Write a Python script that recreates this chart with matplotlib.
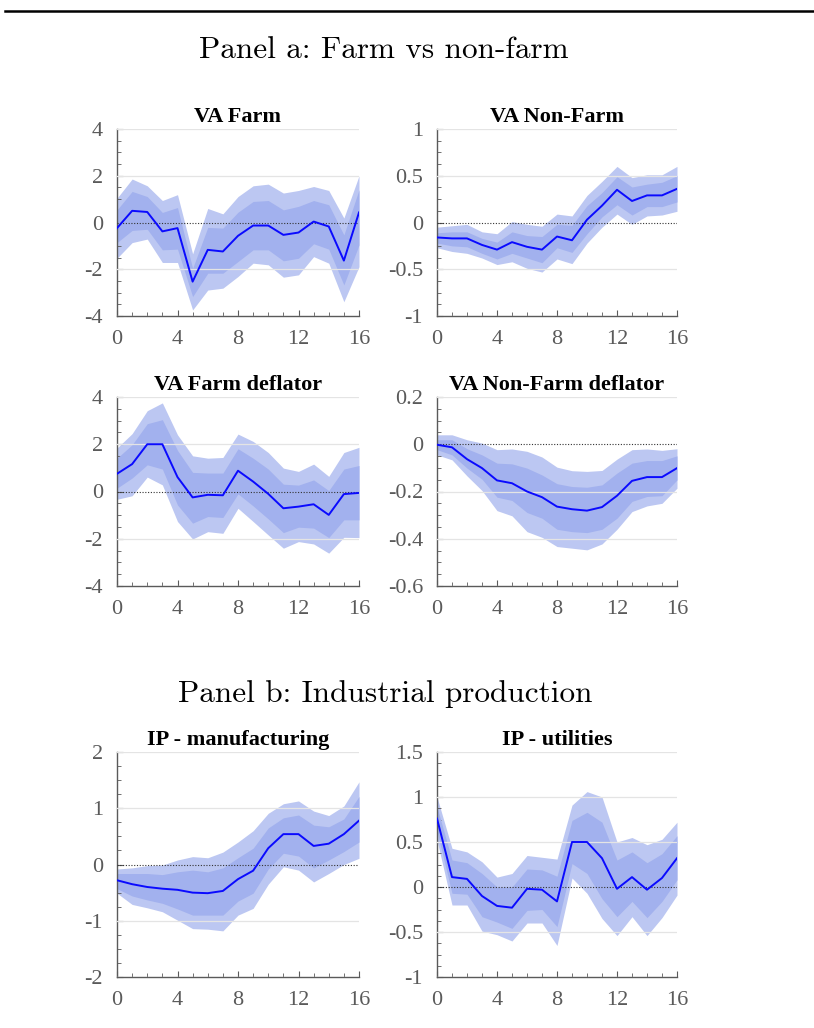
import numpy as np
import matplotlib
matplotlib.use("Agg")
import matplotlib.pyplot as plt
from matplotlib.ticker import MultipleLocator
from matplotlib.lines import Line2D

plt.rcParams["axes.unicode_minus"] = False

horizon = np.arange(17)

# VA Farm
farm_med = [-0.24, 0.50, 0.45, -0.38, -0.24, -2.53, -1.17, -1.24, -0.57, -0.13, -0.13, -0.53, -0.43, 0.04, -0.17, -1.63, 0.43]
farm_hi90 = [1.04, 1.86, 1.57, 0.94, 1.19, -1.34, 0.60, 0.37, 1.11, 1.57, 1.64, 1.26, 1.37, 1.54, 1.37, 0.19, 2.00]
farm_hi68 = [0.54, 1.33, 1.11, 0.43, 0.64, -1.96, -0.21, -0.24, 0.44, 0.90, 0.94, 0.54, 0.69, 0.94, 0.76, -0.53, 1.40]
farm_lo68 = [-0.86, -0.34, -0.29, -1.17, -1.14, -3.17, -2.17, -2.17, -1.67, -1.17, -1.17, -1.64, -1.53, -0.91, -1.14, -2.67, -0.96]
farm_lo90 = [-1.53, -0.86, -0.71, -1.71, -1.71, -3.74, -2.89, -2.81, -2.31, -1.74, -1.81, -2.34, -2.24, -1.46, -1.74, -3.39, -1.89]

# VA Non-Farm
nonfarm_med = [-0.16, -0.17, -0.17, -0.24, -0.29, -0.21, -0.26, -0.29, -0.15, -0.19, 0.03, 0.18, 0.35, 0.23, 0.29, 0.29, 0.36]
nonfarm_hi90 = [-0.05, -0.035, -0.02, -0.10, -0.12, 0.01, -0.02, -0.04, 0.09, 0.07, 0.29, 0.44, 0.60, 0.48, 0.51, 0.51, 0.60]
nonfarm_hi68 = [-0.11, -0.10, -0.10, -0.17, -0.21, -0.10, -0.14, -0.15, -0.02, -0.03, 0.18, 0.32, 0.49, 0.38, 0.41, 0.43, 0.50]
nonfarm_lo68 = [-0.22, -0.25, -0.26, -0.33, -0.39, -0.33, -0.38, -0.43, -0.27, -0.32, -0.12, 0.06, 0.19, 0.08, 0.17, 0.17, 0.22]
nonfarm_lo90 = [-0.27, -0.31, -0.33, -0.38, -0.45, -0.42, -0.49, -0.53, -0.39, -0.44, -0.22, -0.05, 0.09, -0.02, 0.07, 0.08, 0.12]

# VA Farm deflator
farmdef_med = [0.75, 1.16, 2.00, 2.00, 0.61, -0.25, -0.14, -0.16, 0.88, 0.42, -0.10, -0.71, -0.64, -0.54, -0.99, -0.11, -0.06]
farmdef_hi90 = [1.84, 2.45, 3.42, 3.75, 2.40, 1.51, 1.41, 1.44, 2.43, 2.12, 1.65, 0.99, 0.85, 1.16, 0.64, 1.65, 1.87]
farmdef_hi68 = [1.41, 1.98, 2.87, 3.04, 1.74, 0.81, 0.78, 0.78, 1.81, 1.41, 0.95, 0.31, 0.27, 0.49, 0.04, 0.95, 1.10]
farmdef_lo68 = [0.14, 0.57, 1.13, 0.95, -0.57, -1.34, -1.06, -1.10, -0.10, -0.61, -1.16, -1.74, -1.51, -1.55, -1.95, -1.20, -1.20]
farmdef_lo90 = [-0.33, -0.18, 0.61, 0.28, -1.27, -2.01, -1.70, -1.77, -0.71, -1.27, -1.84, -2.40, -2.12, -2.22, -2.61, -1.94, -1.95]

# VA Non-Farm deflator
nfdef_med = [-0.002, -0.013, -0.063, -0.101, -0.153, -0.165, -0.200, -0.224, -0.264, -0.275, -0.281, -0.266, -0.218, -0.155, -0.139, -0.139, -0.101]
nfdef_hi90 = [0.040, 0.040, 0.019, 0.005, -0.023, -0.020, -0.030, -0.054, -0.097, -0.112, -0.115, -0.111, -0.063, -0.023, -0.020, -0.026, -0.019]
nfdef_hi68 = [0.019, 0.019, -0.019, -0.045, -0.080, -0.083, -0.101, -0.130, -0.167, -0.179, -0.182, -0.172, -0.122, -0.080, -0.069, -0.069, -0.049]
nfdef_lo68 = [-0.023, -0.045, -0.101, -0.148, -0.224, -0.238, -0.289, -0.313, -0.360, -0.370, -0.374, -0.360, -0.313, -0.242, -0.221, -0.218, -0.151]
nfdef_lo90 = [-0.045, -0.066, -0.134, -0.196, -0.281, -0.303, -0.370, -0.394, -0.433, -0.440, -0.447, -0.422, -0.360, -0.285, -0.261, -0.250, -0.186]

# IP - manufacturing
manu_med = [-0.28, -0.35, -0.40, -0.43, -0.45, -0.50, -0.51, -0.47, -0.26, -0.11, 0.29, 0.54, 0.54, 0.33, 0.37, 0.54, 0.78]
manu_hi90 = [-0.08, -0.06, -0.02, -0.01, 0.08, 0.14, 0.12, 0.22, 0.40, 0.60, 0.91, 1.08, 1.13, 0.95, 0.87, 1.04, 1.47]
manu_hi68 = [-0.16, -0.16, -0.16, -0.18, -0.13, -0.10, -0.13, -0.06, 0.12, 0.29, 0.65, 0.83, 0.88, 0.70, 0.67, 0.81, 1.21]
manu_lo68 = [-0.43, -0.56, -0.63, -0.69, -0.79, -0.90, -0.90, -0.90, -0.65, -0.51, -0.08, 0.20, 0.15, -0.06, 0.08, 0.23, 0.40]
manu_lo90 = [-0.51, -0.71, -0.77, -0.84, -0.99, -1.14, -1.15, -1.18, -0.90, -0.78, -0.35, -0.04, -0.10, -0.31, -0.16, 0.00, 0.11]

# IP - utilities
util_med = [0.76, 0.11, 0.09, -0.10, -0.21, -0.23, -0.02, -0.03, -0.16, 0.50, 0.50, 0.32, -0.02, 0.11, -0.03, 0.10, 0.32]
util_hi90 = [1.00, 0.43, 0.39, 0.28, 0.11, 0.15, 0.35, 0.33, 0.31, 0.91, 1.06, 1.00, 0.50, 0.55, 0.47, 0.53, 0.72]
util_hi68 = [0.89, 0.30, 0.27, 0.15, 0.00, 0.00, 0.20, 0.19, 0.12, 0.74, 0.83, 0.72, 0.30, 0.39, 0.27, 0.37, 0.57]
util_lo68 = [0.62, -0.07, -0.08, -0.33, -0.39, -0.46, -0.26, -0.25, -0.44, 0.26, 0.15, -0.13, -0.33, -0.16, -0.34, -0.16, 0.08]
util_lo90 = [0.52, -0.20, -0.20, -0.49, -0.53, -0.60, -0.40, -0.40, -0.65, 0.10, -0.07, -0.35, -0.54, -0.33, -0.54, -0.34, -0.09]

titles = ["VA Farm", "VA Non-Farm", "VA Farm deflator", "VA Non-Farm deflator",
          "IP - manufacturing", "IP - utilities"]
ylims = [(-4, 4), (-1, 1), (-4, 4), (-0.6, 0.2), (-2, 2), (-1, 1.5)]
ysteps = [2, 0.5, 2, 0.2, 1, 0.5]

series = [
    (farm_med, farm_hi90, farm_hi68, farm_lo68, farm_lo90),
    (nonfarm_med, nonfarm_hi90, nonfarm_hi68, nonfarm_lo68, nonfarm_lo90),
    (farmdef_med, farmdef_hi90, farmdef_hi68, farmdef_lo68, farmdef_lo90),
    (nfdef_med, nfdef_hi90, nfdef_hi68, nfdef_lo68, nfdef_lo90),
    (manu_med, manu_hi90, manu_hi68, manu_lo68, manu_lo90),
    (util_med, util_hi90, util_hi68, util_lo68, util_lo90),
]

W, H = 814, 1028
fig = plt.figure(figsize=(W / 100, H / 100), dpi=100)

# axes boxes in pixels: left, top, right, bottom
boxes = [
    (117, 129, 359, 316), (437, 129, 677, 316),
    (117, 397, 359, 586), (437, 397, 677, 586),
    (117, 752, 359, 977), (437, 752, 677, 977),
]

outer_col = "#bcc7f2"
inner_col = "#a2b1ee"
line_col = "#0a0aff"
grey = "#5a5a5a"

for i, (l, t, r, b) in enumerate(boxes):
    ax = fig.add_axes([l / W, 1 - b / H, (r - l) / W, (b - t) / H])
    med, hi90, hi68, lo68, lo90 = series[i]
    ax.fill_between(horizon, lo90, hi90, color=outer_col, lw=0, zorder=1)
    ax.fill_between(horizon, lo68, hi68, color=inner_col, lw=0, zorder=2)
    ax.axhline(0, color="#333333", ls=(0, (1, 1.5)), lw=0.8, zorder=4)
    ax.plot(horizon, med, color=line_col, lw=1.4, zorder=5)

    lo, hi = ylims[i]
    step = ysteps[i]
    ax.set_xlim(0, 16)
    ax.set_ylim(lo, hi)
    ax.xaxis.set_major_locator(MultipleLocator(4))
    ax.xaxis.set_minor_locator(MultipleLocator(1))
    ax.yaxis.set_major_locator(MultipleLocator(step))
    ax.yaxis.set_minor_locator(MultipleLocator(step / 4))
    ax.yaxis.set_major_formatter(plt.FuncFormatter(lambda v, p: f"{v:g}" if abs(v) > 1e-9 else "0"))

    for y in np.arange(lo, hi + step / 2, step):
        if abs(y) > 1e-9:
            ax.axhline(y, color="#e4e4e4", lw=0.9, zorder=3)

    for s in ["top", "right"]:
        ax.spines[s].set_visible(False)
    for s in ["left", "bottom"]:
        ax.spines[s].set_color(grey)
        ax.spines[s].set_linewidth(1.0)

    ax.tick_params(which="both", direction="in", colors=grey, labelcolor=grey,
                   labelsize=16)
    ax.tick_params(which="major", length=4)
    ax.tick_params(which="minor", length=3)
    ax.tick_params(axis="y", pad=10)
    ax.tick_params(axis="x", pad=10)
    for lab in ax.get_xticklabels() + ax.get_yticklabels():
        lab.set_family("Liberation Serif")

    ax.set_title(titles[i], fontsize=16, fontweight="bold",
                 family="Liberation Serif", pad=5)

# horizontal rule on top
fig.add_artist(Line2D([5 / W, 1.0], [1 - 11 / H, 1 - 11 / H],
                      color="black", lw=1.8, transform=fig.transFigure))

fig.text(384 / W, 1 - 50 / H, "Panel a: Farm vs non-farm", family="cmr10",
         fontsize=22.5, ha="center", va="center")
fig.text(385 / W, 1 - 694 / H, "Panel b: Industrial production", family="cmr10",
         fontsize=22.5, ha="center", va="center")

fig.savefig("out.png", dpi=100)
